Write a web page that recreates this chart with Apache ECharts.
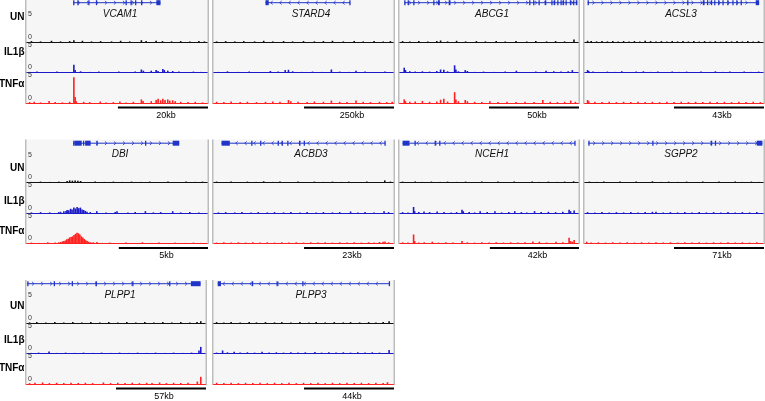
<!DOCTYPE html>
<html><head><meta charset="utf-8">
<script src="https://cdn.jsdelivr.net/npm/echarts@6/dist/echarts.min.js"></script>
<style>html,body{margin:0;padding:0;background:#fff}#c{width:765px;height:401px}</style>
</head><body><div id="c"></div><script>
// ---------- DATA ----------
const geneNames = ['VCAM1','STARD4','ABCG1','ACSL3','DBI','ACBD3','NCEH1','SGPP2','PLPP1','PLPP3'];
const scaleLabels = ['20kb','250kb','50kb','43kb','5kb','23kb','42kb','71kb','57kb','44kb'];
const scaleStart = [50.5,50.3,50,50,51,50.3,50.5,50,50,50.3];
const scaleEnd = [100,100,100,100,100,100,100,100,100,100];
const trackNames = ['UN','IL1β','TNFα'];
const yTickLabels = ['0','5'];
const geneStrand = ['+','-','+','+','+','-','-','+','+','-'];
const geneSpan = [[25.9,73.9],[29,75.8],[2.9,99.1],[2,97.3],[25.9,84.2],[4.7,95.1],[2,97.8],[2.4,99.1],[0.7,97],[2.6,97.5]];
const geneExons = [
 [[25.9,26.6],[28.2,28.7],[34.2,34.7],[38.4,38.9],[54.7,55.2],[57.4,57.9],[59.9,60.4],[63.2,63.7],[71.6,73.9]],
 [[29,30.8],[75.3,75.8]],
 [[2.9,3.4],[4.8,5.2],[7.9,8.3],[19,19.4],[21.6,22.7],[27.6,28.6],[72.3,72.8],[74.5,74.9],[77.5,77.9],[81.1,81.5],[84.6,85],[86.1,86.5],[87.9,88.3],[89.7,90.1],[91,91.4],[92.5,92.9],[94.9,95.3],[96.7,97.1],[98.2,99.1]],
 [[2,2.6],[57.3,57.7],[66,67],[68.3,68.7],[70.5,70.9],[72.3,72.7],[74.5,74.9],[76.9,77.3],[79.6,80],[82.4,82.8],[84.6,85],[87,87.4],[95.4,97.3]],
 [[25.9,26.3],[26.6,30.6],[31.3,32],[32.5,35.5],[38.7,39.3],[65.4,65.9],[80.6,84.2]],
 [[4.7,9.3],[21.1,21.5],[26,26.4],[35.7,36.1],[37.9,38.3],[41,41.4],[47.5,47.9],[50.1,50.5],[94.7,95.1]],
 [[2,5.7],[8.6,9],[19.8,20.2],[22.3,22.7],[97.4,97.8]],
 [[2.4,2.8],[37.9,38.3],[70.5,70.9],[72.7,73.1],[96,99.1]],
 [[0.7,1.1],[15.4,15.8],[25.4,25.8],[38.7,39.1],[59,59.4],[79.5,79.9],[91.6,97]],
 [[2.6,4.4],[21.5,21.9],[35.1,35.5],[49.3,49.7],[97.1,97.5]]
];
// signal tracks: [position % of locus, signal]
const sigUN = [
 [[3,0.15],[8,0.1],[14,0.2],[19,0.1],[24,0.15],[26.3,0.3],[31,0.2],[36,0.1],[41,0.15],[47,0.1],[52,0.2],[57,0.1],[63.4,0.3],[66,0.15],[71.5,0.2],[75,0.15],[80,0.1],[85,0.15],[90,0.1],[95,0.15],[98,0.1]],
 [[2,0.1],[7,0.15],[12,0.1],[17,0.15],[23,0.1],[28,0.2],[33,0.1],[39,0.15],[44,0.1],[50,0.15],[56,0.1],[61,0.15],[66,0.2],[72,0.1],[78,0.15],[83,0.1],[89,0.15],[94,0.1],[98,0.15]],
 [[2,0.15],[6,0.1],[11,0.15],[16,0.1],[21,0.15],[23.1,0.25],[27,0.1],[32,0.2],[37,0.1],[43,0.15],[48,0.1],[54,0.15],[59,0.1],[65,0.15],[71,0.1],[76,0.15],[82,0.1],[87,0.15],[92,0.1],[97.2,0.4]],
 [[2,0.2],[4,0.15],[7,0.1],[10,0.15],[13,0.1],[16,0.15],[19,0.1],[22,0.15],[25,0.1],[28,0.15],[31,0.1],[34,0.2],[37,0.15],[40,0.1],[43,0.15],[46,0.1],[49,0.15],[52,0.1],[55,0.15],[58,0.1],[61,0.15],[64,0.1],[67,0.15],[70,0.1],[73,0.15],[76,0.1],[79,0.15],[82,0.1],[85,0.15],[88,0.1],[91,0.15],[94,0.1],[97,0.15]],
 [[3,0.1],[8,0.15],[13,0.1],[18,0.15],[22.6,0.25],[24,0.35],[25.5,0.3],[27,0.35],[28.5,0.3],[30,0.25],[34,0.1],[38,0.15],[43,0.1],[48,0.15],[53,0.1],[58,0.15],[63,0.1],[68,0.15],[73,0.1],[78,0.15],[83,0.1],[88,0.15],[93,0.1],[97,0.15]],
 [[2,0.15],[6,0.1],[10,0.15],[15,0.1],[19,0.15],[24,0.1],[28,0.2],[33,0.1],[37,0.15],[42,0.1],[47,0.15],[52,0.1],[56,0.15],[61,0.1],[66,0.15],[71,0.1],[75,0.15],[80,0.1],[85,0.15],[89,0.1],[94.9,0.35],[98,0.15]],
 [[2,0.15],[5,0.1],[9,0.15],[13,0.1],[18,0.15],[23,0.1],[27,0.15],[32,0.1],[37,0.15],[41,0.1],[46,0.15],[51,0.1],[55,0.15],[60,0.1],[64,0.15],[69,0.1],[74,0.15],[78,0.1],[83,0.15],[88,0.1],[92,0.15],[97,0.2]],
 [[3,0.15],[7,0.1],[11,0.15],[16,0.1],[20,0.15],[25,0.1],[29,0.15],[34,0.1],[38,0.2],[43,0.1],[47,0.15],[52,0.1],[57,0.15],[61,0.1],[66,0.15],[70,0.1],[75,0.15],[79,0.1],[84,0.15],[88,0.1],[93,0.15],[97,0.1]],
 [[2,0.1],[6,0.15],[11,0.1],[16,0.15],[21,0.1],[26,0.15],[31,0.1],[36,0.15],[41,0.1],[46,0.15],[51,0.1],[56,0.15],[61,0.1],[66,0.15],[71,0.1],[76,0.15],[81,0.1],[86,0.15],[91,0.1],[95,0.15],[97.1,0.3]],
 [[2,0.15],[6,0.1],[10,0.15],[15,0.1],[20,0.15],[24,0.1],[29,0.15],[34,0.1],[38,0.15],[43,0.1],[48,0.15],[53,0.1],[57,0.15],[62,0.1],[67,0.15],[72,0.1],[76,0.15],[81,0.1],[86,0.15],[90,0.1],[94,0.15],[97.3,0.3]]
];
const sigIL1B = [
 [[2,0.1],[6,0.15],[11,0.1],[17,0.15],[22,0.1],[26.3,1.3],[27,0.4],[30,0.2],[35,0.1],[40,0.15],[45,0.1],[51,0.15],[56,0.1],[60,0.15],[63.4,0.5],[64.5,0.3],[68.8,0.3],[71.5,0.4],[72.5,0.25],[75.2,0.6],[76,0.4],[77.9,0.3],[80.6,0.25],[84,0.15],[88,0.1],[92,0.15],[96,0.1]],
 [[3,0.1],[8,0.2],[14,0.1],[20,0.15],[26,0.1],[31.7,0.25],[36,0.15],[39.9,0.4],[41.7,0.45],[44,0.2],[49,0.1],[55,0.15],[60,0.1],[65.4,0.5],[70,0.15],[75,0.1],[79,0.3],[84,0.15],[90,0.1],[95,0.15]],
 [[2.9,0.8],[3.6,0.4],[6,0.2],[9,0.15],[13,0.2],[17,0.15],[21,0.25],[23.1,0.5],[24.9,0.45],[27,0.2],[30.9,1.2],[31.6,0.5],[33,0.2],[36.8,0.4],[38,0.25],[42,0.1],[47,0.15],[53,0.1],[59,0.15],[65.2,0.3],[70,0.1],[76,0.15],[81.7,0.3],[86,0.2],[90,0.15],[94,0.2],[96.3,0.4]],
 [[2,0.4],[2.6,0.25],[5,0.15],[9,0.1],[13,0.15],[17,0.1],[21,0.2],[25,0.1],[29,0.15],[33,0.2],[37,0.1],[41,0.15],[45,0.1],[49,0.15],[53,0.1],[57,0.15],[61,0.1],[65,0.15],[69,0.1],[73,0.2],[77,0.1],[81,0.15],[85,0.1],[89,0.15],[93,0.1],[97,0.15]],
 [[3,0.1],[8,0.15],[13,0.1],[18,0.15],[19,0.2],[20.8,0.3],[22,0.35],[22.6,0.5],[23.5,0.45],[24.5,0.7],[25.3,0.6],[26.3,0.9],[27.2,0.75],[28.1,1.0],[29,0.8],[29.9,0.9],[30.8,0.6],[31.7,0.5],[32.6,0.35],[33.5,0.2],[35.3,0.15],[38.9,0.3],[44,0.1],[49,0.15],[50,0.3],[56,0.1],[60,0.15],[65.6,0.3],[70,0.1],[74,0.15],[80.6,0.3],[85,0.1],[90,0.15],[95,0.1]],
 [[3,0.1],[7,0.15],[12,0.1],[16,0.15],[21,0.1],[25,0.15],[30,0.1],[34,0.15],[39,0.1],[43,0.15],[48,0.1],[52,0.15],[57,0.1],[61,0.15],[66,0.1],[70,0.15],[76,0.25],[80,0.1],[84,0.15],[89,0.1],[94.5,0.3],[97,0.15]],
 [[2,0.15],[5,0.1],[8.1,1.0],[8.7,0.3],[11,0.15],[13.9,0.25],[17,0.15],[21.2,0.25],[25,0.15],[29,0.1],[32,0.15],[35,0.55],[35.7,0.3],[39,0.15],[42,0.1],[45.1,0.3],[49,0.15],[53.3,0.3],[57,0.1],[61,0.15],[64.3,0.3],[68,0.15],[71,0.1],[75.3,0.3],[79,0.15],[83,0.2],[87,0.15],[91,0.2],[94.5,0.55],[95.3,0.3],[97.3,0.4]],
 [[2,0.15],[6,0.1],[10,0.15],[14,0.1],[18,0.15],[22,0.1],[26,0.15],[30,0.1],[34,0.15],[38,0.2],[40,0.2],[44,0.1],[48,0.15],[52,0.1],[56,0.15],[60,0.1],[64,0.15],[68,0.1],[72,0.15],[76,0.1],[80,0.15],[84,0.1],[88,0.15],[92,0.1],[96,0.15]],
 [[3,0.1],[7,0.15],[12.8,0.35],[17,0.1],[22,0.15],[27,0.1],[32,0.15],[37,0.1],[42,0.15],[47,0.1],[52,0.15],[57,0.1],[62,0.15],[67,0.1],[72,0.15],[77,0.1],[82,0.15],[87,0.1],[92,0.15],[96.1,0.5],[97.1,1.1]],
 [[2,0.15],[5.3,0.5],[8,0.2],[11.7,0.3],[15,0.15],[19,0.2],[23,0.15],[27.1,0.3],[31,0.15],[35,0.2],[39,0.15],[43,0.2],[47,0.15],[51,0.2],[56.3,0.25],[60,0.15],[64,0.2],[68,0.15],[72,0.2],[76,0.15],[80,0.2],[84,0.15],[88,0.2],[92,0.15],[97.3,0.6]]
];
const sigTNFA = [
 [[2,0.15],[4.5,0.2],[8,0.1],[12.7,0.35],[16,0.15],[20,0.1],[24,0.2],[26.3,4.3],[27,1.0],[27.6,0.3],[31.7,0.2],[35,0.15],[40.8,0.25],[44,0.1],[48,0.15],[51.6,0.25],[55,0.1],[59,0.2],[63.4,0.6],[64.3,0.35],[68.8,0.3],[71.5,0.5],[72.6,0.7],[74,0.45],[75.2,0.7],[76.4,0.5],[77.9,0.6],[79,0.4],[80.6,0.45],[82,0.3],[85,0.2],[89,0.15],[93,0.2],[97,0.1]],
 [[2,0.2],[6,0.15],[10,0.25],[15,0.15],[19,0.2],[24,0.15],[29,0.2],[33,0.25],[37,0.2],[41.7,0.5],[43,0.3],[47,0.2],[52,0.15],[56,0.25],[61,0.2],[65.4,0.4],[70,0.2],[74,0.15],[79,0.4],[83,0.2],[87,0.15],[92,0.2],[96,0.15],[99,0.2]],
 [[2.9,0.6],[3.6,0.3],[6,0.2],[9,0.25],[13,0.35],[17,0.2],[21,0.25],[23.1,0.55],[24.9,0.7],[27,0.25],[30.9,1.8],[31.6,0.6],[33,0.3],[36.8,0.5],[38,0.3],[42,0.2],[46,0.15],[50.5,0.3],[55,0.15],[60,0.2],[65,0.15],[70,0.2],[75,0.15],[79.9,0.5],[84,0.2],[88,0.15],[92,0.2],[95.4,0.4],[98,0.2]],
 [[2,0.5],[2.6,0.3],[6,0.2],[10,0.15],[14,0.2],[18,0.15],[22,0.2],[26,0.15],[30,0.2],[34,0.15],[38,0.2],[42,0.15],[46,0.2],[50,0.15],[54,0.2],[58,0.15],[62,0.2],[66,0.15],[70,0.2],[74,0.15],[78,0.2],[82,0.15],[86,0.2],[90,0.15],[94,0.2],[98,0.15]],
 [[3,0.15],[7,0.1],[12,0.2],[16,0.15],[18,0.2],[19,0.25],[20,0.35],[20.8,0.4],[21.6,0.5],[22.4,0.7],[23.2,0.8],[24,1.0],[24.8,1.1],[25.6,1.2],[26.4,1.4],[27.2,1.6],[28,1.8],[28.8,1.7],[29.6,1.5],[30.4,1.2],[31.2,1.0],[32,0.75],[32.8,0.55],[33.6,0.4],[34.4,0.3],[35.2,0.2],[36,0.15],[37,0.2],[39,0.25],[42,0.1],[46,0.15],[51,0.1],[55,0.15],[60,0.1],[64,0.2],[69,0.1],[73,0.15],[78,0.1],[82,0.15],[87,0.1],[92,0.15],[96,0.1]],
 [[2,0.15],[6,0.2],[10,0.15],[14,0.2],[18,0.15],[22,0.2],[26,0.15],[30,0.2],[34,0.15],[38,0.2],[42,0.15],[46,0.2],[50,0.15],[54,0.2],[58,0.15],[62,0.2],[66,0.15],[70,0.2],[74,0.15],[78,0.2],[82,0.15],[86,0.2],[89,0.15],[92,0.25],[94,0.3],[95,0.35],[97,0.2]],
 [[2,0.2],[5,0.15],[8.1,1.5],[8.7,0.4],[11,0.15],[14,0.2],[18.5,0.3],[22,0.15],[26,0.2],[30,0.15],[35,0.4],[38,0.2],[42,0.15],[46,0.2],[50,0.15],[54,0.2],[58,0.15],[62,0.2],[66,0.15],[70,0.2],[74.4,0.35],[78,0.3],[82,0.15],[87.2,0.3],[91,0.2],[94.5,0.95],[95.3,0.4],[96.3,0.3],[97.3,0.6]],
 [[1.5,0.3],[4,0.15],[8,0.2],[12,0.15],[16,0.2],[20,0.15],[24,0.2],[28,0.15],[32,0.2],[36,0.15],[40,0.2],[44,0.15],[48,0.2],[52,0.15],[56,0.2],[60,0.15],[64,0.2],[68,0.15],[72,0.2],[76,0.15],[80,0.2],[84,0.15],[88,0.2],[92,0.15],[96,0.2]],
 [[2,0.15],[5,0.2],[9.2,0.25],[13,0.15],[17,0.2],[21,0.15],[25,0.2],[29,0.15],[33,0.2],[37,0.15],[43,0.25],[47,0.15],[51,0.2],[55,0.15],[59,0.2],[63,0.15],[67,0.2],[70,0.15],[74.2,0.25],[78,0.15],[82,0.2],[86,0.15],[90,0.2],[95.2,0.4],[97.1,1.2]],
 [[2,0.2],[6,0.15],[10,0.2],[14,0.15],[18,0.2],[22,0.15],[26,0.2],[30,0.15],[34,0.2],[38,0.15],[42,0.2],[46,0.15],[50,0.2],[54,0.15],[58,0.2],[62,0.15],[66,0.2],[70,0.15],[74,0.2],[78,0.15],[82,0.2],[86,0.15],[90,0.2],[94,0.15],[96.4,0.3]]
];

// ---------- LAYOUT / STYLE ----------
const panelRow = [0,0,0,0,1,1,1,1,2,2];
const panelCol = [0,1,2,3,0,1,2,3,0,1];
const panelX = [[25,209],[212,395],[398,580],[583,765],[25,209],[212,395],[398,580],[583,765],[25,207],[212,395]];
const rowOff = [0, 140.5, 281];
const trackTop = [12, 42.5, 73];
const trackH = 30;
const trackColor = ['#111111','#1a1ac8','#ff2020'];
const GENE = '#2035c8';
const nameX = [120, 311, 492, 681];
const labelY = [[17,52,84],[27.8,61.2,91.2],[25.7,59,87.3]];
const FONT = '"Liberation Sans", Arial, sans-serif';
const signals = [sigUN, sigIL1B, sigTNFA];

const grids=[], xAxes=[], yAxes=[], series=[], graphics=[];
function addGrid(l, r, t, h){ grids.push({left:l, width:r-l, top:t, height:h}); return grids.length-1; }

function spanRender(strand){
  return function(params, api){
    const a = api.coord([api.value(0),0]), b = api.coord([api.value(1),0]);
    const ch = [{type:'line', shape:{x1:a[0],y1:a[1],x2:b[0],y2:a[1]}, style:{stroke:GENE, lineWidth:1}}];
    const d = strand==='+' ? 1 : -1;
    for (let x=a[0]+6; x<b[0]-4; x+=9){
      ch.push({type:'polyline', shape:{points:[[x-d*1.2,a[1]-1.8],[x+d*0.8,a[1]],[x-d*1.2,a[1]+1.8]]}, style:{stroke:GENE, lineWidth:0.8, fill:null}});
    }
    return {type:'group', children:ch};
  };
}
function exonRender(params, api){
  const a = api.coord([api.value(0),0]), b = api.coord([api.value(1),0]);
  const w = Math.max(b[0]-a[0], 1.3);
  return {type:'rect', shape:{x:a[0], y:a[1]-2.5, width:w, height:5}, style:{fill:GENE}};
}

for (let p=0; p<geneNames.length; p++){
  const r = panelRow[p], c = panelCol[p], off = rowOff[r];
  const x0 = panelX[p][0], x1 = panelX[p][1];
  const top = Math.max(0, off-1), bot = off+103.5;
  graphics.push({type:'rect', silent:true, z:-10, shape:{x:x0, y:top, width:x1-x0, height:bot-top}, style:{fill:'#f6f6f6'}});
  graphics.push({type:'line', silent:true, z:100, shape:{x1:x0+0.75,y1:top,x2:x0+0.75,y2:bot}, style:{stroke:'#bdbdbd', lineWidth:1.5}});
  graphics.push({type:'line', silent:true, z:100, shape:{x1:x1-0.75,y1:top,x2:x1-0.75,y2:bot}, style:{stroke:'#bdbdbd', lineWidth:1.5}});
  graphics.push({type:'text', silent:true, z:100, x:nameX[c], y:off+14, style:{text:geneNames[p], font:'italic 10px '+FONT, fill:'#111', align:'center', verticalAlign:'middle', textAlign:'center', textVerticalAlign:'middle'}});

  // gene model
  const gg = addGrid(x0+1, x1-1, off, 5.4);
  xAxes.push({gridIndex:gg, type:'value', min:0, max:100, show:false});
  yAxes.push({gridIndex:gg, type:'value', min:-1, max:1, show:false});
  series.push({type:'custom', xAxisIndex:gg, yAxisIndex:gg, encode:{x:[0,1]}, data:[geneSpan[p]], renderItem:spanRender(geneStrand[p]), silent:true, animation:false, z:5});
  series.push({type:'custom', xAxisIndex:gg, yAxisIndex:gg, encode:{x:[0,1]}, data:geneExons[p], renderItem:exonRender, silent:true, animation:false, z:6});

  // signal tracks
  for (let t=0; t<3; t++){
    const tg = addGrid(x0+1, x1-1, off+trackTop[t], trackH);
    xAxes.push({gridIndex:tg, type:'value', min:0, max:100,
      axisLine:{show:true, onZero:false, lineStyle:{color:trackColor[t], width:1}},
      axisTick:{show:false}, axisLabel:{show:false}, splitLine:{show:false}});
    yAxes.push({gridIndex:tg, type:'value', min:0, max:5, interval:5,
      axisLine:{show:false}, axisTick:{show:false}, splitLine:{show:false},
      axisLabel:{show:c===0, inside:true, margin:2,
        formatter:v => v===0 ? '{lo|'+yTickLabels[0]+'}' : '{hi|'+yTickLabels[1]+'}',
        rich:{lo:{fontSize:7, fontFamily:FONT, color:'#333', padding:[0,0,10,0]},
              hi:{fontSize:7, fontFamily:FONT, color:'#333', padding:[5,0,0,0]}}}});
    series.push({type:'bar', xAxisIndex:tg, yAxisIndex:tg, data:signals[t][p], barWidth:1.6,
      itemStyle:{color:trackColor[t]}, silent:true, animation:false, z:3});
  }

  // scale bar
  const sg = addGrid(x0+1, x1-1, off+106.5, 2);
  xAxes.push({gridIndex:sg, type:'value', min:0, max:100, show:false});
  yAxes.push({gridIndex:sg, type:'value', min:0, max:1, show:false});
  series.push({type:'custom', xAxisIndex:sg, yAxisIndex:sg, encode:{x:[0,1]}, data:[[scaleStart[p], scaleEnd[p]]], silent:true, animation:false,
    renderItem:(params, api) => {
      const a = api.coord([api.value(0),0.5]), b = api.coord([api.value(1),0.5]);
      return {type:'group', children:[
        {type:'rect', shape:{x:a[0], y:a[1]-1, width:b[0]-a[0], height:2}, style:{fill:'#000'}},
        {type:'text', style:{text:scaleLabels[p], x:(a[0]+b[0])/2+3, y:a[1]+8, font:'9px '+FONT, fill:'#000', align:'center', verticalAlign:'middle', textAlign:'center', textVerticalAlign:'middle'}}
      ]};
    }});
}

// track labels at left of each row
for (let r=0; r<3; r++){
  for (let t=0; t<3; t++){
    graphics.push({type:'text', silent:true, z:100, x:24.5, y:rowOff[r]+labelY[r][t],
      style:{text:trackNames[t], font:'bold 10px '+FONT, fill:'#000', align:'right', verticalAlign:'middle', textAlign:'right', textVerticalAlign:'middle'}});
  }
}

const chart = echarts.init(document.getElementById('c'), null, {renderer:'canvas', width:765, height:401});
chart.setOption({animation:false, backgroundColor:'#ffffff', grid:grids, xAxis:xAxes, yAxis:yAxes, series:series, graphic:{elements:graphics}});
</script></body></html>
